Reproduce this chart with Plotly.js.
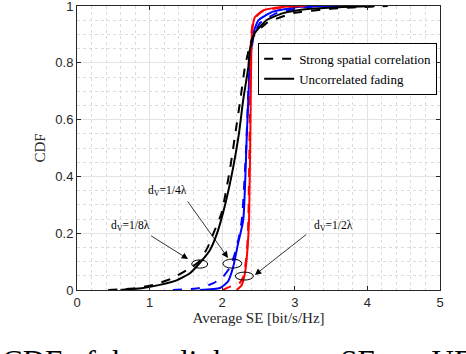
<!DOCTYPE html>
<html>
<head>
<meta charset="utf-8">
<script src="https://cdn.plot.ly/plotly-3.0.1.min.js"></script>
<style>
  html, body { margin: 0; padding: 0; background: #fff; }
  #cdf-chart { width: 466px; height: 354px; }
</style>
</head>
<body>
<div id="cdf-chart"></div>
<script>
// d_V = 1/8 lambda (black)
const blackSolidX = [0.6, 0.91, 1.14, 1.38, 1.56, 1.69, 1.83, 1.93, 2.04, 2.15, 2.23, 2.29, 2.36, 2.38, 2.45, 2.61, 2.84, 3.21, 3.6, 4.1];
const blackSolidY = [0, 0.007, 0.018, 0.035, 0.06, 0.095, 0.14, 0.2, 0.3, 0.43, 0.55, 0.67, 0.785, 0.845, 0.905, 0.95, 0.975, 0.99, 0.996, 1];
const blackDashX = [0.43, 0.8, 1.05, 1.3, 1.51, 1.68, 1.8, 1.88, 1.99, 2.11, 2.18, 2.25, 2.31, 2.36, 2.42, 2.61, 2.98, 3.5, 3.9, 4.28];
const blackDashY = [0, 0.006, 0.018, 0.04, 0.07, 0.1, 0.15, 0.2, 0.27, 0.43, 0.55, 0.67, 0.78, 0.84, 0.89, 0.94, 0.975, 0.99, 0.996, 1];

// d_V = 1/4 lambda (blue)
const blueSolidX = [1.69, 1.97, 2.08, 2.15, 2.22, 2.29, 2.34, 2.38, 2.43, 2.5, 2.7, 3.07, 3.62];
const blueSolidY = [0, 0.007, 0.03, 0.08, 0.165, 0.246, 0.55, 0.785, 0.905, 0.95, 0.98, 0.997, 1];
const blueDashX = [1.32, 1.69, 1.88, 2.01, 2.11, 2.2, 2.27, 2.33, 2.37, 2.43, 2.52, 2.75, 3.1, 3.62];
const blueDashY = [0, 0.007, 0.024, 0.046, 0.081, 0.15, 0.246, 0.5, 0.75, 0.89, 0.94, 0.975, 0.995, 1];

// d_V = 1/2 lambda (red)
const redSolidX = [2.2, 2.27, 2.32, 2.35, 2.37, 2.39, 2.41, 2.45, 2.57, 2.89, 3.15];
const redSolidY = [0, 0.018, 0.07, 0.15, 0.246, 0.6, 0.905, 0.96, 0.985, 0.998, 1];
const redDashX = [2.01, 2.11, 2.22, 2.29, 2.34, 2.36, 2.38, 2.4, 2.44, 2.56, 2.9, 3.15];
const redDashY = [0, 0.012, 0.018, 0.046, 0.13, 0.246, 0.6, 0.9, 0.955, 0.982, 0.998, 1];

const xTicks = [0, 1, 2, 3, 4, 5];
const yTicks = [0, 0.2, 0.4, 0.6, 0.8, 1];
const yTickText = ["0", "0.2", "0.4", "0.6", "0.8", "1"];

// labels, ellipses [x0, x1, y0, y1], arrows [tailX, tailY, headX, headY]
const spacingLabels = ["d<sub>V</sub>=1/8\u03bb", "d<sub>V</sub>=1/4\u03bb", "d<sub>V</sub>=1/2\u03bb"];
const labelPos = [[0.73, 0.226], [1.24, 0.349], [3.53, 0.226]];
const ellipses = [[1.58, 1.80, 0.077, 0.106], [2.01, 2.27, 0.077, 0.109], [2.18, 2.43, 0.035, 0.063]];
const arrows = [[1.0, 0.194, 1.53, 0.109], [1.51, 0.317, 2.08, 0.113], [3.18, 0.2, 2.45, 0.053]];

const legendNames = ["Strong spatial correlation", "Uncorrelated fading"];
const caption = "CDF of the uplink average SE per UE";

const serif = "Liberation Serif, Times New Roman, serif";
const sans = "Liberation Sans, Arial, sans-serif";

function curve(x, y, color, dash, name, legend) {
    return {
        x: x, y: y, type: "scatter", mode: "lines",
        line: {color: color, width: 2, dash: dash, shape: "spline", smoothing: 0.5},
        name: name, showlegend: legend, hoverinfo: "skip",
    };
}

const traces = [
    curve(blueDashX, blueDashY, "#0000ff", "dash", "", false),
    curve(blueSolidX, blueSolidY, "#0000ff", "solid", "", false),
    curve(redDashX, redDashY, "#ff0000", "dash", "", false),
    curve(redSolidX, redSolidY, "#ff0000", "solid", "", false),
    curve(blackDashX, blackDashY, "#000000", "dash", legendNames[0], true),
    curve(blackSolidX, blackSolidY, "#000000", "solid", legendNames[1], true),
];

const annotations = [];
spacingLabels.forEach((t, i) => {
    annotations.push({
        x: labelPos[i][0], y: labelPos[i][1], xref: "x", yref: "y",
        text: t, showarrow: false, font: {family: serif, size: 11.5, color: "#000"},
    });
    annotations.push({
        x: arrows[i][2], y: arrows[i][3], ax: arrows[i][0], ay: arrows[i][1],
        xref: "x", yref: "y", axref: "x", ayref: "y",
        text: "", showarrow: true, arrowhead: 2, arrowsize: 1.6, arrowwidth: 0.8, arrowcolor: "#000",
    });
});
annotations.push({
    x: -77 / 363, y: -0.253, xref: "paper", yref: "paper", xanchor: "left", yanchor: "middle",
    text: caption, showarrow: false, font: {family: serif, size: 31, color: "#000"},
});

const shapes = ellipses.map(e => ({
    type: "circle", xref: "x", yref: "y",
    x0: e[0], x1: e[1], y0: e[2], y1: e[3],
    line: {color: "#000", width: 1},
}));

const layout = {
    width: 466, height: 354,
    margin: {l: 77, r: 26, t: 6, b: 64},
    paper_bgcolor: "#fff", plot_bgcolor: "#fff",
    showlegend: true,
    legend: {
        x: 0.499, y: 0.87, xanchor: "left", yanchor: "top",
        bgcolor: "#fff", bordercolor: "#000", borderwidth: 1,
        font: {family: serif, size: 13, color: "#000"},
        tracegroupgap: 0, itemwidth: 30,
    },
    xaxis: {
        range: [0, 5], tickvals: xTicks, ticks: "inside", ticklen: 4, tickcolor: "#262626",
        showline: true, linecolor: "#262626", mirror: "ticks",
        showgrid: true, gridcolor: "#e3e3e3", zeroline: false,
        tickfont: {family: sans, size: 13, color: "#262626"},
        minor: {dtick: 0.2, showgrid: true, gridcolor: "#dcdcdc", griddash: "dot", ticks: ""},
        title: {text: "Average SE [bit/s/Hz]", font: {family: serif, size: 15, color: "#262626"}, standoff: 3},
    },
    yaxis: {
        range: [0, 1], tickvals: yTicks, ticktext: yTickText, ticks: "inside", ticklen: 4, tickcolor: "#262626",
        ticklabeloverflow: "allow",
        showline: true, linecolor: "#262626", mirror: "ticks",
        showgrid: true, gridcolor: "#e3e3e3", zeroline: false,
        tickfont: {family: sans, size: 13, color: "#262626"},
        minor: {dtick: 0.05, showgrid: true, gridcolor: "#dcdcdc", griddash: "dot", ticks: ""},
        title: {text: "CDF", font: {family: serif, size: 15, color: "#262626"}, standoff: 6},
    },
    annotations: annotations,
    shapes: shapes,
};

Plotly.newPlot("cdf-chart", traces, layout, {staticPlot: true, displayModeBar: false});
</script>
</body>
</html>
